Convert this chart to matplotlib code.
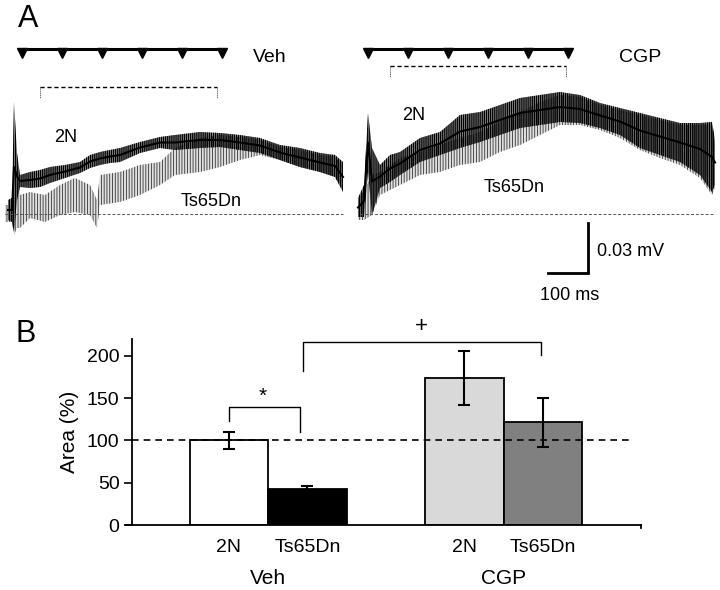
import matplotlib
matplotlib.use("Agg")
import matplotlib.pyplot as plt
import numpy as np

plt.rcParams['font.family'] = ['Liberation Sans', 'DejaVu Sans']

# ---------------- Panel A data (time in ms, voltage in mV) ----------------
stim_times = [0, 100, 200, 300, 400, 500]

veh_2n_t = [-35, -25, -20, -12.5, -5, 20, 45, 70, 107.5, 145, 170, 195, 220, 245, 295, 345,
            382.5, 445, 495, 545, 595, 645, 695, 745, 782.5, 802.5]
veh_2n_hi = [0.0084, 0.0096, 0.0672, 0.0366, 0.0234, 0.0252, 0.0264, 0.0282, 0.0294, 0.0312,
             0.0354, 0.0372, 0.0384, 0.0396, 0.0432, 0.0462, 0.0474, 0.0492, 0.0486, 0.0474,
             0.0456, 0.0414, 0.0396, 0.0366, 0.0354, 0.0312]
veh_2n_lo = [-0.0036, -0.0048, -0.0108, 0.0084, 0.0162, 0.0156, 0.0162, 0.0186, 0.0216, 0.0246,
             0.0276, 0.0294, 0.0306, 0.0312, 0.0366, 0.0396, 0.0384, 0.0396, 0.0402, 0.0384,
             0.0366, 0.0324, 0.0282, 0.0252, 0.0222, 0.0132]

veh_ts_t = [-42.5, -25, -20, -12.5, -5, 20, 57.5, 95, 132.5, 170, 187.5, 195, 245, 295, 345,
            382.5, 445, 495, 545, 595, 645, 695, 745, 782.5, 802.5]
veh_ts_hi = [0.0054, 0.0054, 0.0060, 0.0366, 0.0114, 0.0132, 0.0114, 0.0174, 0.0216, 0.0174,
             0.0084, 0.0234, 0.0252, 0.0294, 0.0312, 0.0396, 0.0456, 0.0474, 0.0462, 0.0444,
             0.0402, 0.0384, 0.0354, 0.0342, 0.0294]
veh_ts_lo = [-0.0048, -0.0048, -0.0126, -0.0084, -0.0084, -0.0024, -0.0048, -0.0006, 0.0012,
             -0.0006, -0.0084, 0.0054, 0.0072, 0.0114, 0.0174, 0.0234, 0.0252, 0.0282, 0.0324,
             0.0354, 0.0324, 0.0282, 0.0252, 0.0222, 0.0144]

cgp_2n_t = [-25, -10, 0, 10, 30, 55, 80, 130, 180, 230, 280, 330, 380, 430, 480, 530, 580,
            630, 680, 730, 780, 830, 860, 867.5]
cgp_2n_hi = [0.0096, 0.0174, 0.0606, 0.0396, 0.0294, 0.0354, 0.0372, 0.0456, 0.0492, 0.0594,
             0.0612, 0.0654, 0.0696, 0.0714, 0.0732, 0.0714, 0.0666, 0.0636, 0.0606, 0.0576,
             0.0546, 0.0546, 0.0552, 0.0444]
cgp_2n_lo = [-0.0018, -0.0018, 0.0252, -0.0006, 0.0156, 0.0192, 0.0234, 0.0312, 0.0354, 0.0396,
             0.0432, 0.0474, 0.0516, 0.0534, 0.0552, 0.0546, 0.0516, 0.0474, 0.0396, 0.0354,
             0.0312, 0.0234, 0.0132, 0.0174]

cgp_ts_t = [-25, -10, 10, 30, 80, 130, 180, 230, 280, 330, 380, 430, 480, 530, 580, 630, 680,
            730, 780, 830, 860, 867.5]
cgp_ts_hi = [0.0084, 0.0144, 0.0234, 0.0252, 0.0336, 0.0372, 0.0414, 0.0456, 0.0492, 0.0552,
             0.0612, 0.0672, 0.0714, 0.0702, 0.0654, 0.0624, 0.0594, 0.0564, 0.0534, 0.0534,
             0.0534, 0.0414]
cgp_ts_lo = [-0.0036, -0.0036, -0.0006, 0.0114, 0.0174, 0.0234, 0.0252, 0.0294, 0.0312, 0.0372,
             0.0414, 0.0474, 0.0534, 0.0534, 0.0504, 0.0456, 0.0384, 0.0336, 0.0294, 0.0216,
             0.0114, 0.0156]

# ---------------- Panel B data ----------------
bar_groups = ['Veh', 'Veh', 'CGP', 'CGP']
bar_labels = ['2N', 'Ts65Dn', '2N', 'Ts65Dn']
bar_values = [100, 42.6, 174, 121.3]
bar_errors = [10, 3, 32, 29]
bar_colors = ['white', 'black', '#d9d9d9', '#808080']
y_ticks = [0, 50, 100, 150, 200]

W, H = 720, 590
fig = plt.figure(figsize=(7.2, 5.9), dpi=100)


def ax_px(x0, y0, x1, y1):
    return fig.add_axes([x0 / W, 1 - y1 / H, (x1 - x0) / W, (y1 - y0) / H])


def draw_trace_panel(ax, t2n, lo2n, hi2n, tts, lots, hits, xlim, label, label_xy,
                     bracket, lbl2n, lblts, base_x):
    ax.set_xlim(*xlim)
    ax.set_ylim(-0.0546, 0.1104)
    ax.axis('off')
    # baseline
    ax.plot(base_x, [0, 0], color='#555555', lw=0.7, ls=(0, (3, 2)))
    # Ts65Dn trace (thinner, lighter noisy band)
    plt.rcParams['hatch.linewidth'] = 0.6
    plt.rcParams['hatch.color'] = '#333333'
    ax.fill_between(tts, lots, hits, facecolor='#999999', alpha=0.3, lw=0)
    ax.fill_between(tts, lots, hits, facecolor='none', edgecolor='#333333', hatch='||||||',
                    lw=0)
    # 2N trace (thick, dark noisy band)
    plt.rcParams['hatch.linewidth'] = 0.9
    plt.rcParams['hatch.color'] = 'black'
    ax.fill_between(t2n, lo2n, hi2n, facecolor='#222222', alpha=0.5, lw=0)
    ax.fill_between(t2n, lo2n, hi2n, facecolor='none', edgecolor='black', hatch='||||||||',
                    lw=0)
    ax.plot(t2n, [(a + b) / 2 for a, b in zip(lo2n, hi2n)], color='black', lw=1.5)
    # stimulation train
    ax.plot([stim_times[0], stim_times[-1]], [0.099, 0.099], color='black', lw=2.2,
            solid_capstyle='butt')
    ax.plot(stim_times, [0.0966] * len(stim_times), ls='none', marker='v', ms=7,
            color='black')
    # dashed analysis window
    b0, b1, by, bl = bracket
    ax.plot([b0, b1], [by, by], color='black', lw=1.0, ls=(0, (3, 2)))
    ax.plot([b0, b0], [by, bl], color='#444444', lw=0.7, ls=(0, (1, 1)))
    ax.plot([b1, b1], [by, bl], color='#444444', lw=0.7, ls=(0, (1, 1)))
    ax.text(label_xy[0], label_xy[1], label, fontsize=14, ha='center', va='center')
    ax.text(lbl2n[0], lbl2n[1], '2N', fontsize=13, ha='center', va='center')
    ax.text(lblts[0], lblts[1], 'Ts65Dn', fontsize=13, ha='center', va='center')


axA1 = ax_px(0, 30, 355, 305)
draw_trace_panel(axA1, veh_2n_t, veh_2n_lo, veh_2n_hi, veh_ts_t, veh_ts_lo, veh_ts_hi,
                 (-55, 832.5), 'Veh', (620, 0.0936), (45, 487.5, 0.0762, 0.0696),
                 (110, 0.0456), (472.5, 0.0078), [-42.5, 802.5])

axA2 = ax_px(355, 30, 720, 305)
draw_trace_panel(axA2, cgp_2n_t, cgp_2n_lo, cgp_2n_hi, cgp_ts_t, cgp_ts_lo, cgp_ts_hi,
                 (-32.5, 880), 'CGP', (680, 0.0942), (55, 495, 0.0888, 0.0822),
                 (115, 0.0594), (365, 0.0162), [-20, 867.5])

# scale bar (100 ms, 0.03 mV)
axA2.plot([450, 550, 550], [-0.0354, -0.0354, -0.0054], color='black', lw=2.0,
          solid_joinstyle='miter')
axA2.text(572.5, -0.0222, '0.03 mV', fontsize=13, ha='left', va='center')
axA2.text(505, -0.0486, '100 ms', fontsize=13, ha='center', va='center')

fig.text(28 / W, 1 - 19 / H, 'A', fontsize=22, ha='center', va='center')
fig.text(26 / W, 1 - 334 / H, 'B', fontsize=22, ha='center', va='center')

# ---------------- Panel B ----------------
axB = ax_px(132, 339, 641, 525)
x = [0, 1, 3, 4]
axB.bar(x, bar_values, width=1.0, color=bar_colors, edgecolor='black', linewidth=1.3,
        zorder=2)
axB.errorbar(x, bar_values, yerr=bar_errors, fmt='none', ecolor='black', elinewidth=1.5,
             capsize=4, capthick=1.5, zorder=3)
axB.set_xlim(-1.236, 5.25)
axB.set_ylim(0, 220)
axB.set_yticks(y_ticks)
axB.tick_params(axis='y', direction='out', length=6, width=1.2, labelsize=14, pad=3)
axB.set_xticks(x)
axB.set_xticklabels(bar_labels, fontsize=14)
axB.tick_params(axis='x', length=0, pad=10)
for s in ['top', 'right']:
    axB.spines[s].set_visible(False)
axB.spines['left'].set_linewidth(1.3)
axB.spines['bottom'].set_linewidth(1.3)
# small end tick on x axis
axB.plot([5.25, 5.25], [0, -4], color='black', lw=1.3, clip_on=False)
axB.plot([-1.236 - 0.08, -1.236], [0, 0], color='black', lw=1.3, clip_on=False)
axB.set_ylabel('Area (%)', fontsize=15, labelpad=6)
axB.axhline(100, xmin=0, xmax=0.984, color='black', lw=1.2, ls=(0, (4, 3)), zorder=4)

# significance brackets
axB.plot([0.0, 0.0, 0.905, 0.905], [123, 140, 140, 110], color='black', lw=1.0)
axB.text(0.43, 152, '*', fontsize=15, ha='center', va='center')
axB.plot([0.94, 0.94, 3.97, 3.97], [182, 216, 216, 201], color='black', lw=1.0,
         clip_on=False)
axB.text(2.45, 235, '+', fontsize=16, ha='center', va='center', clip_on=False)

# group labels
group_centers = [0.5, 3.5]
for gx, g in zip(group_centers, ['Veh', 'CGP']):
    axB.text(gx, -63, g, fontsize=15, ha='center', va='center', clip_on=False)

fig.savefig('out.png', dpi=100)
